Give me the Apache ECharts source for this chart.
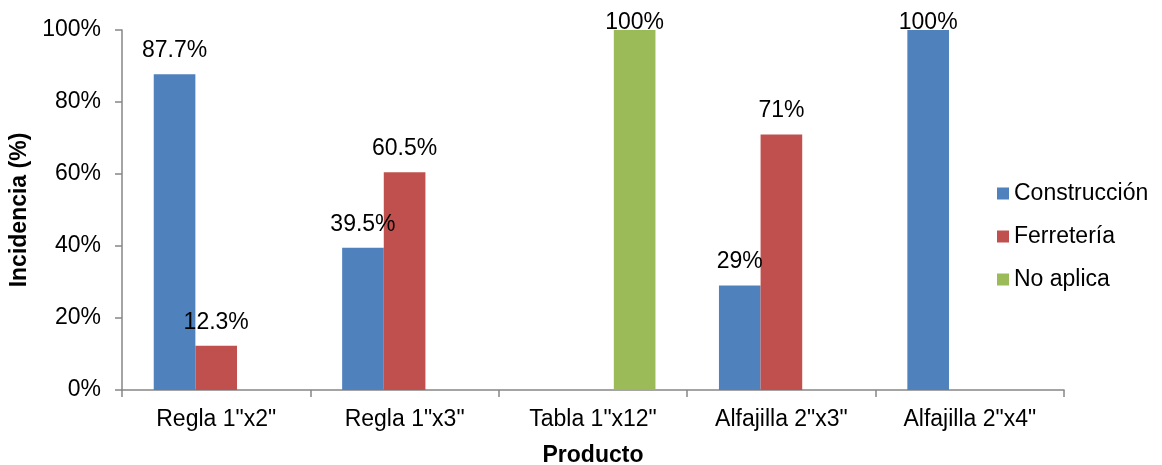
<!DOCTYPE html>
<html>
<head>
<meta charset="utf-8">
<script src="https://cdn.jsdelivr.net/npm/echarts@6/dist/echarts.min.js"></script>
<style>html,body{margin:0;padding:0;background:#fff}#c{width:1162px;height:465px}</style>
</head>
<body>
<div id="c"></div>
<script>
const categories = ['Regla 1"x2"', 'Regla 1"x3"', 'Tabla 1"x12"', 'Alfajilla 2"x3"', 'Alfajilla 2"x4"'];
const construccion = [87.7, 39.5, null, 29, 100];
const ferreteria = [12.3, 60.5, null, 71, null];
const noAplica = [null, null, 100, null, null];
const yTicks = [0, 20, 40, 60, 80, 100];

const yMax = yTicks[yTicks.length - 1];
const font = '"Liberation Sans", Arial, sans-serif';
const chart = echarts.init(document.getElementById('c'), null, {renderer: 'canvas'});
function mk(name, data, color) {
  return {
    name: name, type: 'bar',
    // labels at the top of the plot are pulled down so they stay inside, as in the original
    data: data.map(v => (v === yMax ? {value: v, label: {distance: -4}} : v)),
    barGap: '0%', barCategoryGap: '33.7%',
    itemStyle: {color: color},
    label: {show: true, position: 'top', distance: 12, color: '#000', fontFamily: font, fontSize: 23,
      formatter: p => p.value + '%'}
  };
}
chart.setOption({
  animation: false,
  grid: {left: 122, right: 98, top: 30, bottom: 75, containLabel: false, outerBoundsMode: 'none'},
  legend: {
    orient: 'vertical', left: 997, top: 182, padding: 0, itemWidth: 12, itemHeight: 12, itemGap: 20,
    icon: 'rect',
    textStyle: {fontFamily: font, fontSize: 23, color: '#000'},
    data: ['Construcción', 'Ferretería', 'No aplica']
  },
  xAxis: {
    type: 'category', data: categories,
    name: 'Producto', nameLocation: 'middle', nameGap: 54,
    nameTextStyle: {fontFamily: font, fontSize: 23, fontWeight: 'bold', color: '#000'},
    axisLine: {lineStyle: {color: '#868686', width: 1.5}},
    axisTick: {show: true, length: 7, lineStyle: {color: '#868686', width: 1.5}},
    axisLabel: {fontFamily: font, fontSize: 23, color: '#000', margin: 18}
  },
  yAxis: {
    type: 'value', min: yTicks[0], max: yMax, interval: 20,
    name: 'Incidencia (%)', nameLocation: 'middle', nameGap: 86, nameRotate: 90,
    nameTextStyle: {fontFamily: font, fontSize: 23, fontWeight: 'bold', color: '#000'},
    splitLine: {show: false},
    axisLine: {show: true, lineStyle: {color: '#868686', width: 1.5}},
    axisTick: {show: true, length: 7, lineStyle: {color: '#868686', width: 1.5}},
    axisLabel: {fontFamily: font, fontSize: 23, color: '#000', margin: 21, formatter: v => v + '%'}
  },
  series: [
    mk('Construcción', construccion, '#4F81BD'),
    mk('Ferretería', ferreteria, '#C0504D'),
    mk('No aplica', noAplica, '#9BBB59')
  ]
});
</script>
</body>
</html>
